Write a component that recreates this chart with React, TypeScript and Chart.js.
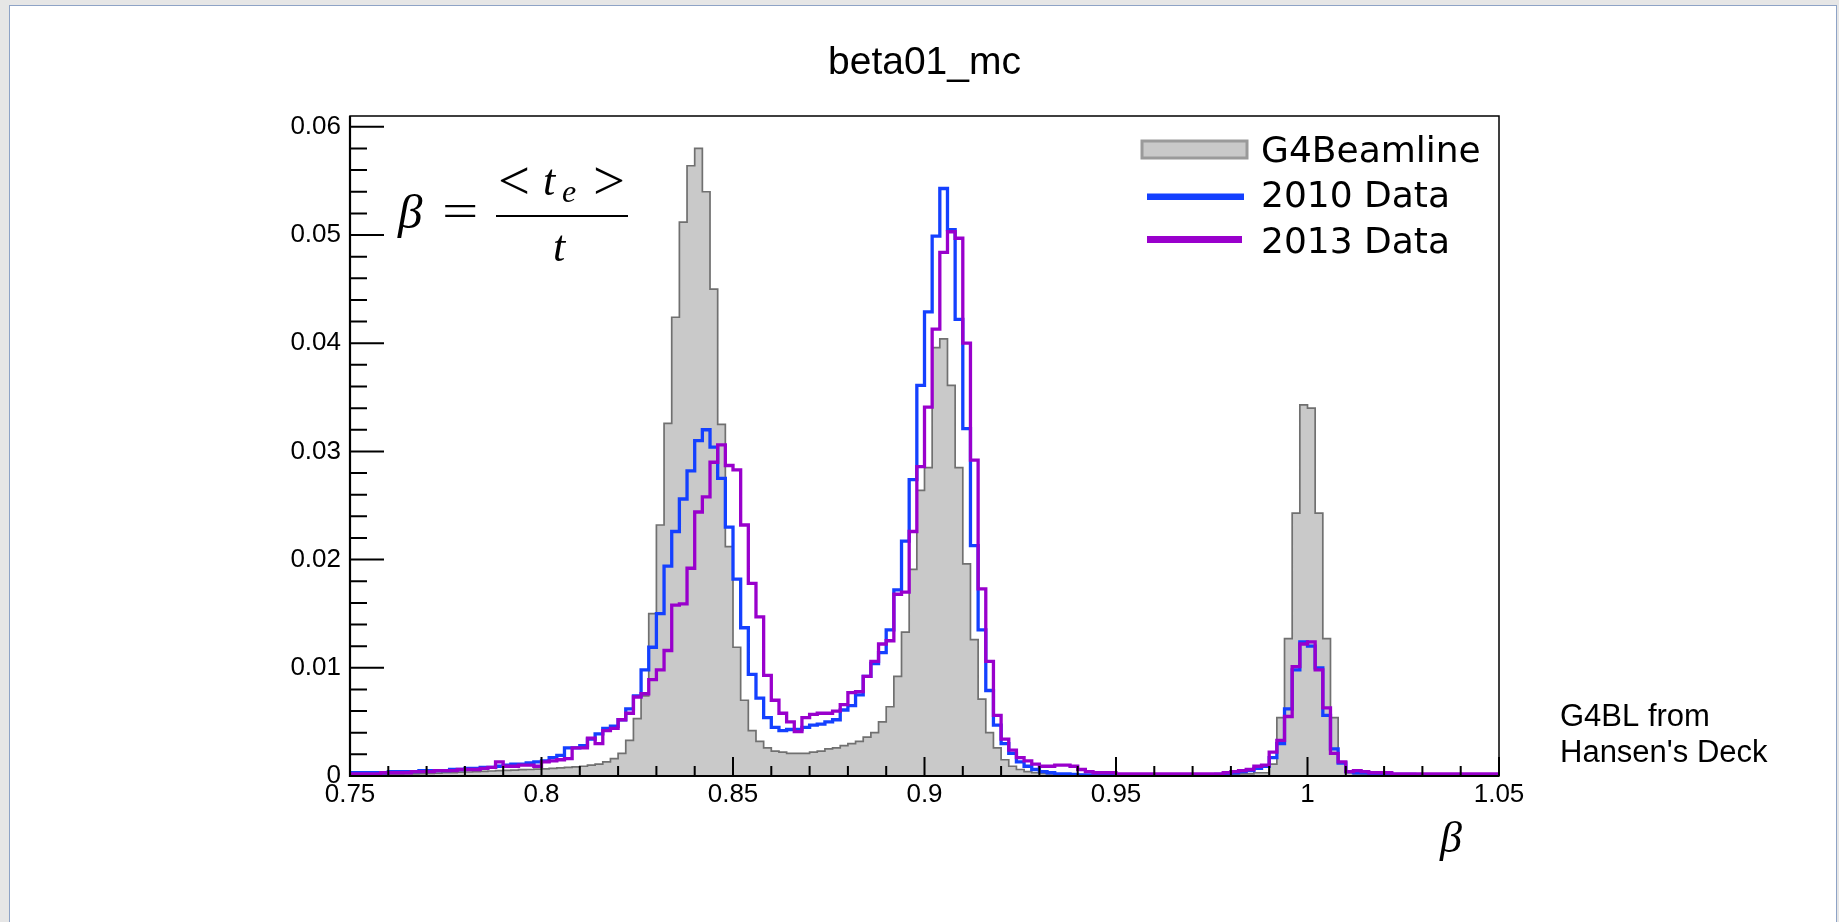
import React, { useEffect, useRef } from 'react';
import { Chart, registerables } from 'chart.js';

Chart.register(...registerables);

// ---- data ----
const BIN_START = 0.75;
const BIN_WIDTH = 0.002;
const X_MIN = 0.75;
const X_MAX = 1.05;
const Y_MIN = 0;
const Y_MAX = 0.061;
const X_TICKS = [0.75, 0.8, 0.85, 0.9, 0.95, 1.0, 1.05];
const Y_TICKS = [0, 0.01, 0.02, 0.03, 0.04, 0.05, 0.06];
const TITLE = 'beta01_mc';
const SERIES_LABELS = ['G4Beamline', '2010 Data', '2013 Data'];
const NOTE_LINES = ['G4BL from', "Hansen's Deck"];

// G4Beamline, 150 bins of width 0.002 starting at 0.75
const g4beamline = [
  0.0001, 0.0001, 0.0001, 0.00012, 0.00014, 0.00015, 0.00017, 0.00019, 0.0002, 0.00022,
  0.00025, 0.00027, 0.0003, 0.00032, 0.00035, 0.00037, 0.0004, 0.00043, 0.00046, 0.0005,
  0.00052, 0.00055, 0.00058, 0.0006, 0.00063, 0.00066, 0.0007, 0.00075, 0.0008, 0.00085,
  0.0009, 0.001, 0.0011, 0.0013, 0.0016, 0.0021, 0.0033, 0.0053, 0.0074, 0.015,
  0.0232, 0.0326, 0.0424, 0.0512, 0.0564, 0.058, 0.054, 0.045, 0.0325, 0.0212,
  0.0119, 0.007, 0.0042, 0.0032, 0.0026, 0.0023, 0.0022, 0.0021, 0.0021, 0.0021,
  0.0022, 0.0023, 0.0025, 0.0026, 0.0028, 0.003, 0.0032, 0.0036, 0.004, 0.005,
  0.0064, 0.0092, 0.0133, 0.0191, 0.0264, 0.0285, 0.0396, 0.0404, 0.0361, 0.0285,
  0.0196, 0.0126, 0.0071, 0.004, 0.0026, 0.0015, 0.0009, 0.0006, 0.0004, 0.0003,
  0.00025, 0.0002, 0.0002, 0.00015, 0.00015, 0.00012, 0.0001, 0.0001, 0.0001, 0.0001,
  0.0001, 0.0001, 0.0001, 0.0001, 0.0001, 0.0001, 0.0001, 0.0001, 0.0001, 0.0001,
  0.0001, 0.0001, 0.0001, 0.0001, 0.00012, 0.00015, 0.0002, 0.0002, 0.0003, 0.0003,
  0.0011, 0.0054, 0.0127, 0.0243, 0.0343, 0.034, 0.0243, 0.0127, 0.0054, 0.0012,
  0.0003, 0.0002, 0.0001, 0.0001, 0.0001, 0.00008, 0.00008, 0.00006, 0.00006, 0.00005,
  0.00005, 0.00005, 0.00005, 0.00005, 0.00005, 0.00005, 0.00005, 0.00005, 0.00005, 0.00005,
];

const data2010 = [
  0.0003, 0.0003, 0.0003, 0.0003, 0.0003, 0.0004, 0.0004, 0.0004, 0.0004, 0.0005,
  0.0005, 0.0005, 0.0005, 0.0006, 0.0006, 0.0007, 0.0007, 0.0008, 0.0008, 0.0009,
  0.001, 0.0011, 0.0011, 0.0012, 0.0013, 0.0014, 0.0017, 0.0019, 0.0026, 0.0026,
  0.0028, 0.0034, 0.0039, 0.0044, 0.0046, 0.0052, 0.0062, 0.0074, 0.0098, 0.0119,
  0.015, 0.0194, 0.0226, 0.0256, 0.0282, 0.031, 0.032, 0.0304, 0.0275, 0.023,
  0.0182, 0.0137, 0.0094, 0.0072, 0.0054, 0.0045, 0.0042, 0.0043, 0.0043, 0.0045,
  0.0047, 0.0048, 0.005, 0.0052, 0.0061, 0.0065, 0.0075, 0.0092, 0.0104, 0.0114,
  0.0135, 0.0172, 0.0217, 0.0274, 0.0361, 0.0429, 0.0499, 0.0543, 0.0505, 0.0422,
  0.0321, 0.0213, 0.0135, 0.0079, 0.0047, 0.003, 0.0021, 0.0013, 0.0009, 0.0006,
  0.0004, 0.0003, 0.0002, 0.0002, 0.00015, 0.0001, 0.0001, 0.0001, 0.0001, 0.0001,
  0.0001, 0.0001, 0.0001, 0.0001, 0.0001, 0.0001, 0.0001, 0.0001, 0.0001, 0.0001,
  0.0001, 0.0001, 0.00012, 0.00015, 0.0002, 0.0003, 0.0004, 0.0005, 0.0007, 0.0009,
  0.0017, 0.003, 0.0062, 0.0098, 0.0124, 0.012, 0.01, 0.0056, 0.0025, 0.0012,
  0.0004, 0.0003, 0.0003, 0.0002, 0.0002, 0.0002, 0.00015, 0.00015, 0.00015, 0.0001,
  0.0001, 0.0001, 0.0001, 0.0001, 0.0001, 0.0001, 0.0001, 0.0001, 0.0001, 0.0001,
];

const data2013 = [
  0.0002, 0.0002, 0.0002, 0.0002, 0.0003, 0.0003, 0.0003, 0.0003, 0.0004, 0.0004,
  0.0004, 0.0005, 0.0005, 0.0005, 0.0006, 0.0006, 0.0006, 0.0007, 0.0008, 0.0013,
  0.0009, 0.0009, 0.001, 0.001, 0.0009, 0.0013, 0.0014, 0.0015, 0.0016, 0.0026,
  0.0026, 0.0035, 0.003, 0.0042, 0.0044, 0.0052, 0.0058, 0.0073, 0.0076, 0.0089,
  0.0098, 0.0116, 0.0158, 0.0159, 0.0192, 0.0244, 0.0258, 0.029, 0.0306, 0.0287,
  0.0283, 0.0232, 0.0178, 0.0147, 0.0093, 0.007, 0.0058, 0.005, 0.0041, 0.0054,
  0.0057, 0.0058, 0.0058, 0.006, 0.0066, 0.0077, 0.0078, 0.0092, 0.0106, 0.0122,
  0.0125, 0.0168, 0.017, 0.0226, 0.0286, 0.0341, 0.0413, 0.0484, 0.0503, 0.0497,
  0.04, 0.0292, 0.0173, 0.0106, 0.0056, 0.0034, 0.0024, 0.0017, 0.0014, 0.0011,
  0.0009, 0.0009, 0.001, 0.001, 0.0009, 0.0006, 0.0004, 0.0003, 0.0003, 0.0003,
  0.0002, 0.0002, 0.0002, 0.0002, 0.0002, 0.0002, 0.0002, 0.0002, 0.0002, 0.0002,
  0.0002, 0.0002, 0.0002, 0.0002, 0.0003, 0.0004, 0.0005, 0.0006, 0.0009, 0.001,
  0.0022, 0.0033, 0.0055, 0.0101, 0.0122, 0.0124, 0.0098, 0.0063, 0.0021, 0.0013,
  0.0004, 0.0005, 0.0004, 0.0003, 0.0003, 0.0003, 0.0002, 0.0002, 0.0002, 0.0002,
  0.0002, 0.0002, 0.0002, 0.0002, 0.0002, 0.0002, 0.0002, 0.0002, 0.0002, 0.0002,
];

// ---- styles ----
const GRAY_FILL = '#c9c9c9';
const GRAY_LINE = '#707070';
const BLUE = '#1440ff';
const PURPLE = '#9900cc';
const SANS = '"Liberation Sans", Arial, Helvetica, sans-serif';
const SERIF = '"Liberation Serif", "Times New Roman", serif';
const LEGEND_FONT = '"DejaVu Sans", sans-serif';

function toSteps(values: number[]) {
  const pts = values.map((v, i) => ({ x: BIN_START + i * BIN_WIDTH, y: v }));
  pts.push({ x: BIN_START + values.length * BIN_WIDTH, y: values[values.length - 1] });
  return pts;
}

function stretchedText(ctx: any, text: string, x: number, y: number, sx: number) {
  ctx.save();
  ctx.translate(x, y);
  ctx.scale(sx, 1);
  ctx.fillText(text, 0, 0);
  ctx.restore();
}

const rootStyle = {
  id: 'rootStyle',
  afterDraw(chart: any) {
    const { ctx, chartArea: a, scales } = chart;
    const xs = scales.x;
    const ys = scales.y;
    ctx.save();
    ctx.strokeStyle = '#000';
    ctx.lineCap = 'butt';

    // frame
    ctx.lineWidth = 1.5;
    ctx.strokeRect(a.left, a.top, a.right - a.left, a.bottom - a.top);
    ctx.lineWidth = 2.2;
    ctx.beginPath();
    ctx.moveTo(a.left, a.top);
    ctx.lineTo(a.left, a.bottom);
    ctx.lineTo(a.right, a.bottom);
    ctx.stroke();

    // ticks (inward)
    ctx.lineWidth = 2;
    ctx.beginPath();
    Y_TICKS.forEach((v, k) => {
      const p = ys.getPixelForValue(v);
      ctx.moveTo(a.left, p);
      ctx.lineTo(a.left + 34, p);
      if (k < Y_TICKS.length - 1) {
        const step = (Y_TICKS[k + 1] - v) / 5;
        for (let m = 1; m < 5; m++) {
          const q = ys.getPixelForValue(v + m * step);
          ctx.moveTo(a.left, q);
          ctx.lineTo(a.left + 17, q);
        }
      }
    });
    X_TICKS.forEach((v, k) => {
      const p = xs.getPixelForValue(v);
      ctx.moveTo(p, a.bottom);
      ctx.lineTo(p, a.bottom - 19);
      if (k < X_TICKS.length - 1) {
        const step = (X_TICKS[k + 1] - v) / 5;
        for (let m = 1; m < 5; m++) {
          const q = xs.getPixelForValue(v + m * step);
          ctx.moveTo(q, a.bottom);
          ctx.lineTo(q, a.bottom - 10);
        }
      }
    });
    ctx.stroke();

    // title
    ctx.fillStyle = '#000';
    ctx.textAlign = 'center';
    ctx.textBaseline = 'alphabetic';
    ctx.font = `39px ${SANS}`;
    ctx.fillText(TITLE, (a.left + a.right) / 2, 74);

    // legend
    const lx = 1142;
    ctx.fillStyle = GRAY_FILL;
    ctx.fillRect(lx, 141, 105, 17);
    ctx.strokeStyle = '#9a9a9a';
    ctx.lineWidth = 3;
    ctx.strokeRect(lx, 141, 105, 17);
    ctx.fillStyle = BLUE;
    ctx.fillRect(lx + 5, 193.5, 97, 6.5);
    ctx.fillStyle = PURPLE;
    ctx.fillRect(lx + 5, 236, 95, 7);
    ctx.fillStyle = '#000';
    ctx.textAlign = 'left';
    ctx.font = `36px ${LEGEND_FONT}`;
    ctx.fillText(SERIES_LABELS[0], 1261, 161.5);
    ctx.fillText(SERIES_LABELS[1], 1261, 206.5);
    ctx.fillText(SERIES_LABELS[2], 1261, 253);

    // formula  beta = <t_e>/t
    ctx.font = `italic 49px ${SERIF}`;
    ctx.fillText('\u03B2', 398, 228);
    ctx.font = `46px ${SERIF}`;
    stretchedText(ctx, '=', 442, 226, 1.4);
    ctx.font = `54px ${SERIF}`;
    stretchedText(ctx, '<', 498, 199, 1.05);
    stretchedText(ctx, '>', 593, 199, 1.05);
    ctx.font = `italic 44px ${SERIF}`;
    ctx.fillText('t', 543, 195);
    ctx.fillText('t', 553, 261);
    ctx.font = `italic 32px ${SERIF}`;
    ctx.fillText('e', 562, 202);
    ctx.strokeStyle = '#000';
    ctx.lineWidth = 2;
    ctx.beginPath();
    ctx.moveTo(496, 216);
    ctx.lineTo(628, 216);
    ctx.stroke();

    // x-axis title
    ctx.font = `italic 44px ${SERIF}`;
    ctx.textAlign = 'right';
    ctx.fillText('\u03B2', a.right - 37, 852);

    // note on the right
    ctx.textAlign = 'left';
    ctx.font = `31px ${SANS}`;
    ctx.fillText(NOTE_LINES[0], 1560, 726);
    ctx.fillText(NOTE_LINES[1], 1560, 762);

    ctx.restore();
  },
};

export default function App() {
  const ref = useRef<HTMLCanvasElement | null>(null);

  useEffect(() => {
    if (!ref.current) return;
    const chart = new Chart(ref.current, {
      type: 'line',
      data: {
        datasets: [
          {
            label: SERIES_LABELS[2],
            data: toSteps(data2013),
            stepped: 'before',
            borderColor: PURPLE,
            borderWidth: 3.3,
            pointRadius: 0,
            fill: false,
            borderJoinStyle: 'miter',
            order: 1,
          },
          {
            label: SERIES_LABELS[1],
            data: toSteps(data2010),
            stepped: 'before',
            borderColor: BLUE,
            borderWidth: 3.3,
            pointRadius: 0,
            fill: false,
            borderJoinStyle: 'miter',
            order: 2,
          },
          {
            label: SERIES_LABELS[0],
            data: toSteps(g4beamline),
            stepped: 'before',
            borderColor: GRAY_LINE,
            backgroundColor: GRAY_FILL,
            borderWidth: 1.7,
            pointRadius: 0,
            fill: 'origin',
            borderJoinStyle: 'miter',
            order: 3,
          },
        ] as any,
      },
      options: {
        responsive: false,
        devicePixelRatio: 1,
        animation: false,
        events: [],
        layout: { padding: { left: 250, right: 340, top: 116, bottom: 86 } },
        plugins: {
          legend: { display: false },
          tooltip: { enabled: false },
          title: { display: false },
        },
        scales: {
          x: {
            type: 'linear',
            min: X_MIN,
            max: X_MAX,
            grid: { display: false, drawTicks: false },
            border: { display: false },
            afterBuildTicks: (s: any) => {
              s.ticks = X_TICKS.map((v) => ({ value: v }));
            },
            afterFit: (s: any) => {
              s.height = 60;
            },
            ticks: {
              autoSkip: false,
              maxRotation: 0,
              padding: 3,
              color: '#000',
              font: { family: SANS, size: 26 },
              callback: (v: any) => String(Number(Number(v).toFixed(3))),
            },
          },
          y: {
            type: 'linear',
            min: Y_MIN,
            max: Y_MAX,
            grid: { display: false, drawTicks: false },
            border: { display: false },
            afterBuildTicks: (s: any) => {
              s.ticks = Y_TICKS.map((v) => ({ value: v }));
            },
            afterFit: (s: any) => {
              s.width = 100;
            },
            ticks: {
              autoSkip: false,
              padding: 9,
              color: '#000',
              font: { family: SANS, size: 26 },
              callback: (v: any) => String(Number(Number(v).toFixed(3))),
            },
          },
        },
      } as any,
      plugins: [rootStyle],
    });
    return () => chart.destroy();
  }, []);

  return (
    <div style={{ position: 'fixed', left: 0, top: 0, width: 1839, height: 922, background: '#e6e6e6', overflow: 'hidden' }}>
      <div
        style={{
          position: 'absolute',
          left: 9,
          top: 5,
          width: 1826,
          height: 1000,
          background: '#ffffff',
          borderLeft: '1px solid #8ea3c6',
          borderTop: '1px solid #8ea3c6',
          borderRight: '1px solid #8ea3c6',
        }}
      />
      <canvas ref={ref} width={1839} height={922} style={{ position: 'absolute', left: 0, top: 0 }} />
    </div>
  );
}
